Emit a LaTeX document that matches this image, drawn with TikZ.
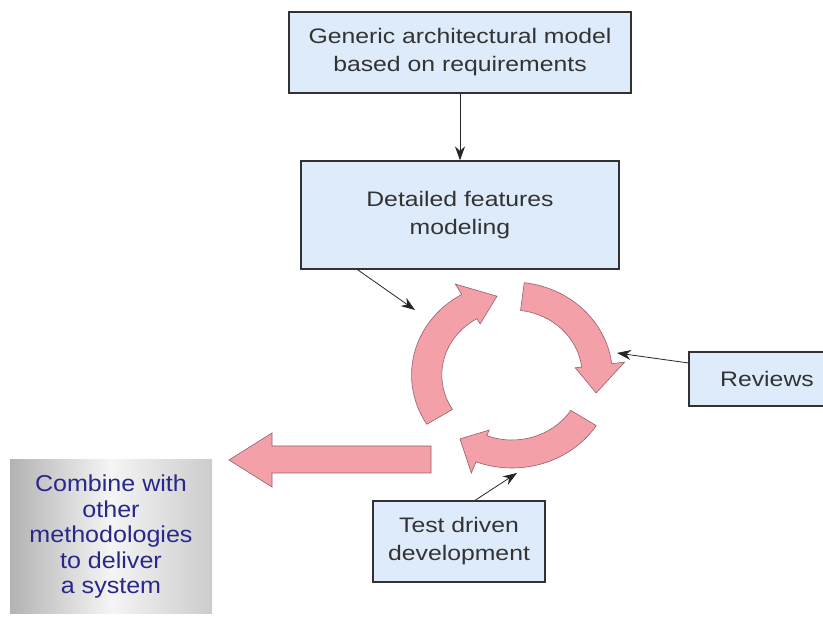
\documentclass[tikz,border=0pt]{standalone}
\usepackage{fontspec}
\setmainfont{Liberation Sans}[FakeStretch=1.18]
\newfontfamily\combfont{Liberation Sans}[FakeStretch=1.09]
\usetikzlibrary{arrows.meta}
\definecolor{boxblue}{RGB}{221,235,250}
\definecolor{boxline}{RGB}{50,50,50}
\definecolor{boxtext}{RGB}{51,51,51}
\definecolor{pinkfill}{RGB}{244,160,168}
\definecolor{pinkline}{RGB}{150,95,105}
\definecolor{navytext}{RGB}{40,40,140}
\begin{document}
\begin{tikzpicture}[x=1pt,y=1pt,
  box/.style={draw=boxline, fill=boxblue, line width=1.2pt, text=boxtext,
    align=center, inner sep=0pt, font=\fontsize{21}{28}\selectfont},
  loop/.style={fill=pinkfill, draw=pinkline, line width=0.6pt},
  pointer/.style={-{Stealth[length=14pt,width=10pt]}, line width=0.8pt, black!85}]
  \useasboundingbox (0,0) rectangle (823,617);
  \clip (0,0) rectangle (823,617);

  % boxes
  \node[box, minimum width=342pt, minimum height=81pt] (arch) at (460,564.5)
    {Generic architectural model\\based on requirements};
  \node[box, minimum width=318pt, minimum height=108pt] (feat) at (460,402)
    {Detailed features\\modeling};
  \node[box, minimum width=156pt, minimum height=54pt] (rev) at (767,238)
    {Reviews};
  \node[box, minimum width=172pt, minimum height=81pt] (tdd) at (459,75.5)
    {Test driven\\development};

  % shaded note
  \node[left color=gray!60, right color=gray!40, middle color=white!92!gray,
    minimum width=202pt, minimum height=154pt, inner sep=0pt, align=center,
    text=navytext, font=\combfont\fontsize{23}{25.5}\selectfont] (merge) at (111,80)
    {Combine with\\other\\methodologies\\to deliver\\ a system};

  % cycle of three curved arrows
  \begin{scope}[shift={(512,242)}, xscale=1.08]
  \foreach \tail/\base/\tip in {212/120/100, 83/7/-13, -33/-111/-127}
    \filldraw[loop] (\tail:93) arc[start angle=\tail, end angle=\base, radius=93]
      -- (\base:105) -- (\tip:80) -- (\base:59) -- (\base:65)
      arc[start angle=\base, end angle=\tail, radius=65] -- cycle;
  \end{scope}

  % big arrow out of the cycle
  \filldraw[loop] (431,171) -- (272,171) -- (272,184) -- (229,157)
    -- (272,130) -- (272,144) -- (431,144) -- cycle;

  % pointers
  \coordinate (hitA) at (415,307);
  \coordinate (hitB) at (617,264);
  \coordinate (hitC) at (517,144);
  \draw[pointer] (arch.south) -- (feat.north);
  \draw[pointer] ([xshift=57pt]feat.south west) -- (hitA);
  \draw[pointer] ([yshift=16pt]rev.west) -- (hitB);
  \draw[pointer] ([xshift=16pt]tdd.north) -- (hitC);
\end{tikzpicture}
\end{document}
